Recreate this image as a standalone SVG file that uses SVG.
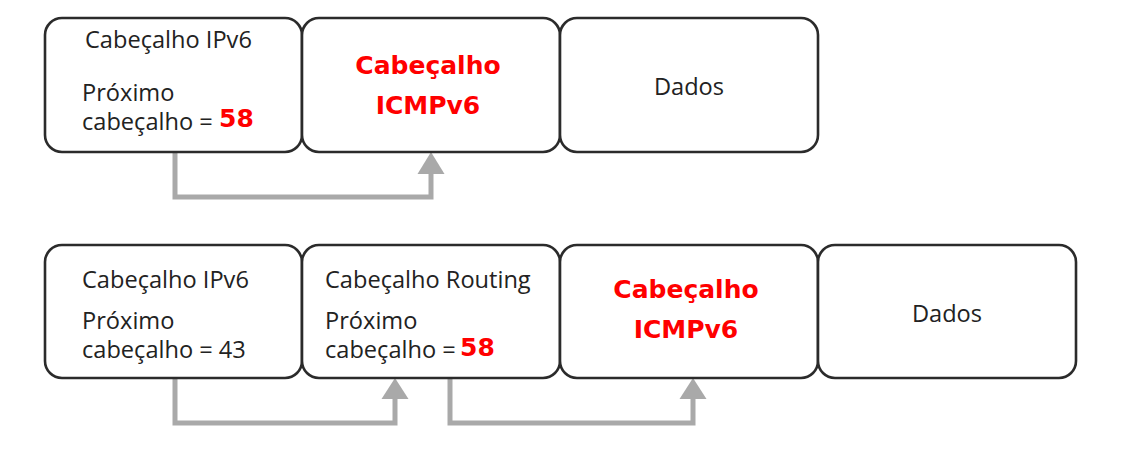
<svg xmlns="http://www.w3.org/2000/svg" width="1122" height="466" viewBox="0 0 1122 466">
<style>
.box{fill:#fff;stroke:#2b2b2b;stroke-width:2.6}
.t{font-family:"Open Sans","Noto Sans",sans-serif;font-size:23.6px;fill:#222}
.r{font-family:"DejaVu Sans",Verdana,sans-serif;font-weight:bold;font-size:25px;fill:#ff0000}
.c{text-anchor:middle}
.ln{fill:none;stroke:#a9a9a9;stroke-width:5}
.ah{fill:#a9a9a9}
</style>
<rect width="1122" height="466" fill="#fff"/>
<g id="connectors">
<path class="ln" d="M175,153 V197 H431 V172"/>
<polygon class="ah" points="431,152 444.5,174 417.5,174"/>
<path class="ln" d="M175,379 V423 H395 V397"/>
<polygon class="ah" points="395,378 408.5,399 381.5,399"/>
<path class="ln" d="M450,379 V423 H693 V397"/>
<polygon class="ah" points="693,378 706.5,399 679.5,399"/>
</g>
<g id="top-ipv6">
<rect class="box" x="45" y="18" width="257" height="134" rx="17"/>
<text class="t" x="85" y="48">Cabeçalho IPv6</text>
<text class="t" x="82" y="101">Próximo</text>
<text class="t" x="82" y="130">cabeçalho =</text>
<text class="r" x="219" y="127">58</text>
</g>
<g id="top-icmpv6">
<rect class="box" x="302" y="18" width="258" height="134" rx="17"/>
<text class="r c" x="428" y="74">Cabeçalho</text>
<text class="r c" x="428" y="114">ICMPv6</text>
</g>
<g id="top-dados">
<rect class="box" x="560" y="18" width="258" height="134" rx="17"/>
<text class="t c" x="689" y="95">Dados</text>
</g>
<g id="bot-ipv6">
<rect class="box" x="45" y="245" width="257" height="133" rx="17"/>
<text class="t" x="82" y="288">Cabeçalho IPv6</text>
<text class="t" x="82" y="329">Próximo</text>
<text class="t" x="82" y="358">cabeçalho = 43</text>
</g>
<g id="bot-routing">
<rect class="box" x="302" y="245" width="258" height="133" rx="17"/>
<text class="t" x="325" y="288">Cabeçalho Routing</text>
<text class="t" x="325" y="329">Próximo</text>
<text class="t" x="325" y="358">cabeçalho =</text>
<text class="r" x="460" y="356">58</text>
</g>
<g id="bot-icmpv6">
<rect class="box" x="560" y="245" width="258" height="133" rx="17"/>
<text class="r c" x="686" y="298">Cabeçalho</text>
<text class="r c" x="686" y="338">ICMPv6</text>
</g>
<g id="bot-dados">
<rect class="box" x="818" y="245" width="258" height="133" rx="17"/>
<text class="t c" x="947" y="322">Dados</text>
</g>
</svg>
